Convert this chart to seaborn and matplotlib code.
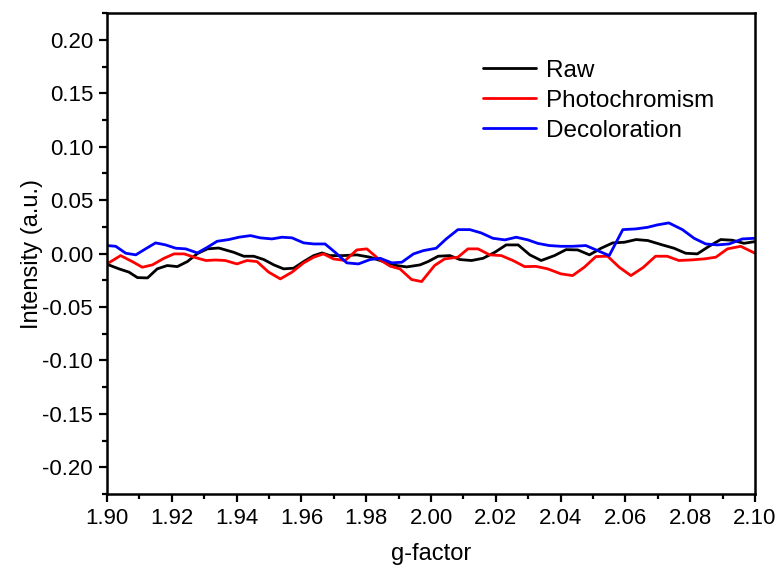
import numpy as np
import pandas as pd
import matplotlib
matplotlib.use("Agg")
import matplotlib.pyplot as plt
from matplotlib.ticker import MultipleLocator, FormatStrFormatter
import seaborn as sns

# EPR spectra, g-factor window 1.90-2.10
raw_g = [1.9000, 1.9037, 1.9068, 1.9094, 1.9125, 1.9155, 1.9186, 1.9217, 1.9248,
         1.9279, 1.9310, 1.9345, 1.9391, 1.9422, 1.9453, 1.9484, 1.9515, 1.9545,
         1.9576, 1.9607, 1.9638, 1.9664, 1.9688, 1.9729, 1.9771, 1.9812, 1.9853,
         1.9894, 1.9925, 1.9966, 1.9991, 2.0022, 2.0058, 2.0089, 2.0125, 2.0161,
         2.0197, 2.0232, 2.0269, 2.0305, 2.0340, 2.0381, 2.0417, 2.0453, 2.0489,
         2.0525, 2.0561, 2.0597, 2.0633, 2.0669, 2.0714, 2.0750, 2.0786, 2.0822,
         2.0858, 2.0894, 2.0930, 2.0966, 2.1000]
raw_i = [-0.0100, -0.0143, -0.0174, -0.0225, -0.0228, -0.0143, -0.0112, -0.0122, -0.0075,
         0.0000, 0.0044, 0.0052, 0.0012, -0.0025, -0.0025, -0.0056, -0.0106, -0.0143,
         -0.0137, -0.0075, -0.0019, 0.0006, -0.0019, -0.0019, -0.0012, -0.0034, -0.0075,
         -0.0112, -0.0125, -0.0106, -0.0075, -0.0025, -0.0019, -0.0056, -0.0065, -0.0044,
         0.0012, 0.0081, 0.0081, -0.0012, -0.0065, -0.0019, 0.0037, 0.0034, -0.0012,
         0.0050, 0.0100, 0.0106, 0.0131, 0.0122, 0.0081, 0.0050, 0.0003, -0.0003,
         0.0068, 0.0131, 0.0125, 0.0096, 0.0112]

photo_g = [1.9000, 1.9042, 1.9078, 1.9109, 1.9140, 1.9176, 1.9207, 1.9238, 1.9269,
           1.9305, 1.9335, 1.9365, 1.9401, 1.9432, 1.9463, 1.9499, 1.9535, 1.9571,
           1.9607, 1.9638, 1.9668, 1.9699, 1.9735, 1.9771, 1.9802, 1.9838, 1.9874,
           1.9904, 1.9940, 1.9971, 2.0011, 2.0042, 2.0083, 2.0114, 2.0145, 2.0181,
           2.0217, 2.0253, 2.0289, 2.0324, 2.0360, 2.0401, 2.0437, 2.0473, 2.0509,
           2.0545, 2.0581, 2.0617, 2.0655, 2.0693, 2.0729, 2.0765, 2.0806, 2.0843,
           2.0879, 2.0915, 2.0956, 2.1000]
photo_i = [-0.0097, -0.0019, -0.0075, -0.0128, -0.0106, -0.0044, -0.0003, -0.0003, -0.0034,
           -0.0065, -0.0060, -0.0065, -0.0097, -0.0065, -0.0075, -0.0174, -0.0237, -0.0174,
           -0.0087, -0.0034, -0.0003, -0.0050, -0.0065, 0.0034, 0.0044, -0.0050, -0.0118,
           -0.0143, -0.0243, -0.0262, -0.0112, -0.0050, -0.0034, 0.0044, 0.0044, -0.0012,
           -0.0019, -0.0065, -0.0122, -0.0120, -0.0143, -0.0190, -0.0206, -0.0128, -0.0028,
           -0.0025, -0.0128, -0.0206, -0.0130, -0.0025, -0.0025, -0.0065, -0.0059, -0.0050,
           -0.0034, 0.0044, 0.0068, 0.0003]

decol_g = [1.9000, 1.9027, 1.9058, 1.9089, 1.9119, 1.9150, 1.9181, 1.9212, 1.9243,
           1.9279, 1.9310, 1.9340, 1.9376, 1.9407, 1.9443, 1.9473, 1.9509, 1.9540,
           1.9571, 1.9607, 1.9638, 1.9673, 1.9704, 1.9740, 1.9776, 1.9812, 1.9843,
           1.9879, 1.9910, 1.9946, 1.9977, 2.0016, 2.0047, 2.0083, 2.0120, 2.0155,
           2.0191, 2.0228, 2.0263, 2.0299, 2.0330, 2.0365, 2.0401, 2.0437, 2.0478,
           2.0514, 2.0550, 2.0592, 2.0633, 2.0669, 2.0698, 2.0734, 2.0776, 2.0812,
           2.0848, 2.0884, 2.0920, 2.0961, 2.1000]
decol_i = [0.0075, 0.0068, 0.0003, -0.0012, 0.0044, 0.0100, 0.0081, 0.0050, 0.0044,
           0.0006, 0.0059, 0.0115, 0.0131, 0.0153, 0.0168, 0.0147, 0.0137, 0.0153,
           0.0147, 0.0100, 0.0090, 0.0090, 0.0012, -0.0087, -0.0097, -0.0056, -0.0044,
           -0.0087, -0.0081, -0.0003, 0.0028, 0.0050, 0.0137, 0.0224, 0.0224, 0.0193,
           0.0143, 0.0128, 0.0153, 0.0128, 0.0095, 0.0075, 0.0068, 0.0068, 0.0075,
           0.0028, -0.0019, 0.0224, 0.0231, 0.0246, 0.0268, 0.0287, 0.0224, 0.0143,
           0.0090, 0.0081, 0.0090, 0.0137, 0.0143]

series = [
    ("Raw", raw_g, raw_i, "#000000"),
    ("Photochromism", photo_g, photo_i, "#ff0000"),
    ("Decoloration", decol_g, decol_i, "#0000ff"),
]

sns.set_style("ticks")
plt.rcParams["font.family"] = ["Liberation Sans", "DejaVu Sans"]
plt.rcParams["text.color"] = "black"
plt.rcParams["axes.labelcolor"] = "black"

fig = plt.figure(figsize=(7.77, 5.70), dpi=100)
ax = fig.add_axes([0.1377, 0.1333, 0.8340, 0.8437])

for name, g, inten, col in series:
    df = pd.DataFrame({"g": g, "intensity": inten})
    sns.lineplot(data=df, x="g", y="intensity", color=col, linewidth=2.0,
                 label=name, ax=ax, estimator=None, sort=False)

ax.set_xlim(1.90, 2.10)
ax.set_ylim(-0.225, 0.225)
ax.xaxis.set_major_locator(MultipleLocator(0.02))
ax.xaxis.set_minor_locator(MultipleLocator(0.01))
ax.yaxis.set_major_locator(MultipleLocator(0.05))
ax.yaxis.set_minor_locator(MultipleLocator(0.025))
ax.xaxis.set_major_formatter(FormatStrFormatter("%.2f"))
ax.yaxis.set_major_formatter(FormatStrFormatter("%.2f"))

ax.tick_params(axis="both", which="major", direction="out", length=6, width=1.6,
               labelsize=16, colors="black", pad=4)
ax.tick_params(axis="both", which="minor", direction="out", length=3.5, width=1.6,
               colors="black")
for sp in ax.spines.values():
    sp.set_visible(True)
    sp.set_linewidth(1.8)
    sp.set_color("black")

ax.set_xlabel("g-factor", fontsize=17, labelpad=10)
ax.set_ylabel("Intensity (a.u.)", fontsize=17)
ax.yaxis.set_label_coords(-0.099, 0.5)

ax.legend(loc="upper left", bbox_to_anchor=(0.565, 0.923), frameon=False,
          fontsize=17.5, handlelength=2.2, handletextpad=0.4, labelspacing=0.33,
          borderaxespad=0.0)

fig.savefig("out.png", dpi=100)
